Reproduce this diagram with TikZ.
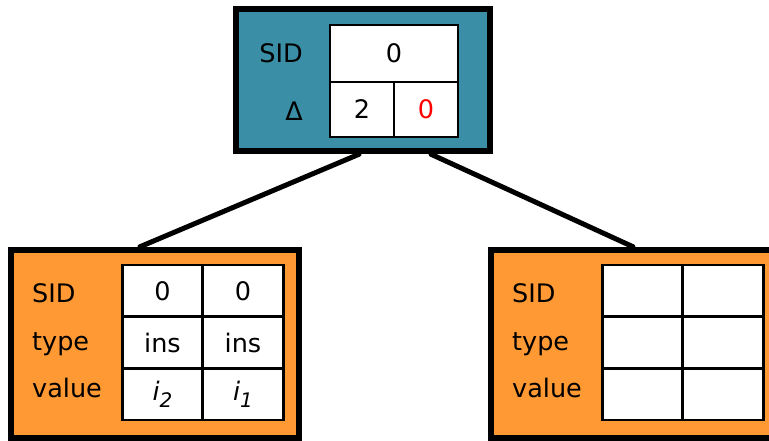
\documentclass[tikz,border=0pt]{standalone}
\usepackage{fontspec}
\setmainfont{DejaVu Sans}
\usetikzlibrary{positioning,backgrounds,calc}

\definecolor{rootblue}{RGB}{58,143,166}
\definecolor{leaforange}{RGB}{255,153,51}

\newcommand{\isub}[1]{\textit{i}\raisebox{-7pt}{\fontsize{20}{24}\selectfont\itshape #1}}

\tikzset{
  rootbox/.style={draw, line width=6.5pt, fill=rootblue, inner sep=0pt,
    minimum width=254pt, minimum height=142pt},
  leafbox/.style={draw, line width=6.5pt, fill=leaforange, inner sep=0pt,
    minimum width=288pt, minimum height=188pt},
  cell/.style={draw, line width=2.6pt, fill=white, inner sep=0pt},
  leafcell/.style={cell, minimum width=80.5pt, minimum height=51.7pt},
  lbl/.style={inner sep=0pt},
  link/.style={line width=5pt, line cap=round},
}

\begin{document}
\begin{tikzpicture}[x=1pt, y=-1pt, font=\fontsize{25.5}{30}\selectfont]
\useasboundingbox (0,0) rectangle (769,441);

\def\la{162.5}
\def\lb{243}
\def\ra{642.5}
\def\rb{723}

\def\ya{290.8}
\def\yb{342.5}
\def\yc{394.2}

\node[rootbox] (root) at (363, 80) {};
\node[leafbox] (left) at (155, 344) {};
\node[leafbox] (right) at (635, 344) {};

\begin{scope}[on background layer]
\draw[link] ($(root.south)+(-4,0)$) -- ($(left.north)+(-15,0)$);
\draw[link] ($(root.south)+(68,0)$) -- ($(right.north)+(-2,0)$);
\end{scope}

\node[cell, minimum width=128pt, minimum height=57pt] (sid) at (394, 53.5) {0};
\node[cell, minimum width=64pt, minimum height=55pt] (d1) at (362, 109.5) {2};
\node[cell, minimum width=64pt, minimum height=55pt, text=red] (d2) at (426, 109.5) {0};

\node[lbl, anchor=base east] at (303, 63) {SID};
\node[lbl, anchor=base east] at (303, 121) {Δ};

\node[leafcell] (l11) at (\la, \ya) {0};
\node[leafcell] (l12) at (\lb, \ya) {0};
\node[leafcell] (l21) at (\la, \yb) {ins};
\node[leafcell] (l22) at (\lb, \yb) {ins};
\node[leafcell] (l31) at (\la, \yc) {\isub{2}};
\node[leafcell] (l32) at (\lb, \yc) {\isub{1}};

\node[leafcell] (r11) at (\ra, \ya) {};
\node[leafcell] (r12) at (\rb, \ya) {};
\node[leafcell] (r21) at (\ra, \yb) {};
\node[leafcell] (r22) at (\rb, \yb) {};
\node[leafcell] (r31) at (\ra, \yc) {};
\node[leafcell] (r32) at (\rb, \yc) {};

\node[lbl, anchor=base west] at (32, 302) {SID};
\node[lbl, anchor=base west] at (32, 350) {type};
\node[lbl, anchor=base west] at (32, 397) {value};

\node[lbl, anchor=base west] at (512, 302) {SID};
\node[lbl, anchor=base west] at (512, 350) {type};
\node[lbl, anchor=base west] at (512, 397) {value};

\end{tikzpicture}
\end{document}
